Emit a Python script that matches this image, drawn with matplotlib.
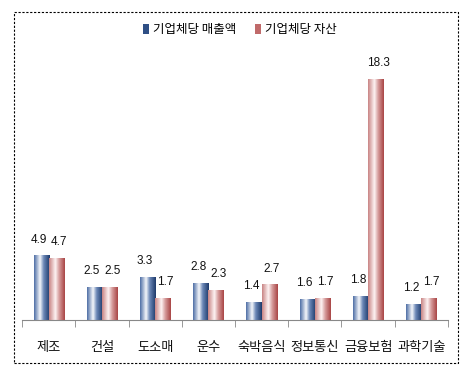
import numpy as np
import matplotlib.pyplot as plt
from matplotlib.colors import LinearSegmentedColormap
from matplotlib.patches import Rectangle, Patch

plt.rcParams['font.family'] = ['Noto Sans CJK KR', 'DejaVu Sans']

categories = ['제조', '건설', '도소매', '운수', '숙박음식', '정보통신', '금융보험', '과학기술']
sales = [4.9, 2.5, 3.3, 2.8, 1.4, 1.6, 1.8, 1.2]
assets = [4.7, 2.5, 1.7, 2.3, 2.7, 1.7, 18.3, 1.7]
series_names = ['기업체당 매출액', '기업체당 자산']

blue_cmap = LinearSegmentedColormap.from_list(
    'b', [(0, '#4f6fa6'), (0.38, '#f4f6fa'), (0.62, '#6a86b6'), (1, '#1d3a6b')])
red_cmap = LinearSegmentedColormap.from_list(
    'r', [(0, '#c98585'), (0.4, '#fdf3f3'), (0.65, '#d59a9a'), (1, '#a94545')])

fig = plt.figure(figsize=(4.7, 3.73), dpi=100)
ax = fig.add_axes([0.047, 0.142, 0.906, 0.724])

x = np.arange(len(categories))
w = 0.285
grad = np.linspace(0, 1, 64).reshape(1, -1)

for vals, off, cmap, shift in [(sales, -w / 2, blue_cmap, -0.05),
                               (assets, w / 2, red_cmap, 0.05)]:
    bars = ax.bar(x + off, vals, w, facecolor='none', edgecolor='none')
    for b, v in zip(bars, vals):
        x0 = b.get_x()
        im = ax.imshow(grad, extent=[x0, x0 + w, 0, v], aspect='auto',
                       cmap=cmap, zorder=2)
        im.set_clip_path(b)
        ax.text(x0 + w / 2 + shift, v + 0.75, f'{v:.1f}', ha='center', va='bottom',
                fontsize=8.5, color='#111111', family='Liberation Sans')

ax.set_xlim(-0.5, len(categories) - 0.5)
ax.set_ylim(0, 20.5)
ax.set_xticks(x)
ax.set_xticklabels(categories, fontsize=9.5, color='#111111')
ax.set_xticks(np.arange(len(categories) + 1) - 0.5, minor=True)
ax.tick_params(axis='x', which='major', length=0, pad=15)
ax.tick_params(axis='x', which='minor', length=5, color='#888888')
ax.set_yticks([])
for s in ['left', 'right', 'top']:
    ax.spines[s].set_visible(False)
ax.spines['bottom'].set_color('#888888')

handles = [Patch(facecolor='#2f4f85'), Patch(facecolor='#c06a6a')]
fig.legend(handles, series_names, loc='center', bbox_to_anchor=(0.51, 0.92),
           ncol=2, frameon=False, fontsize=9, handlelength=0.5, handleheight=0.8,
           handletextpad=0.3, columnspacing=1.5)

fig.patches.append(Rectangle((14 / 470, 10 / 373), 444 / 470, 351 / 373,
                             transform=fig.transFigure, fill=False,
                             edgecolor='black', linewidth=0.8,
                             linestyle=(0, (2, 1.5))))

fig.savefig('out.png', dpi=100)
